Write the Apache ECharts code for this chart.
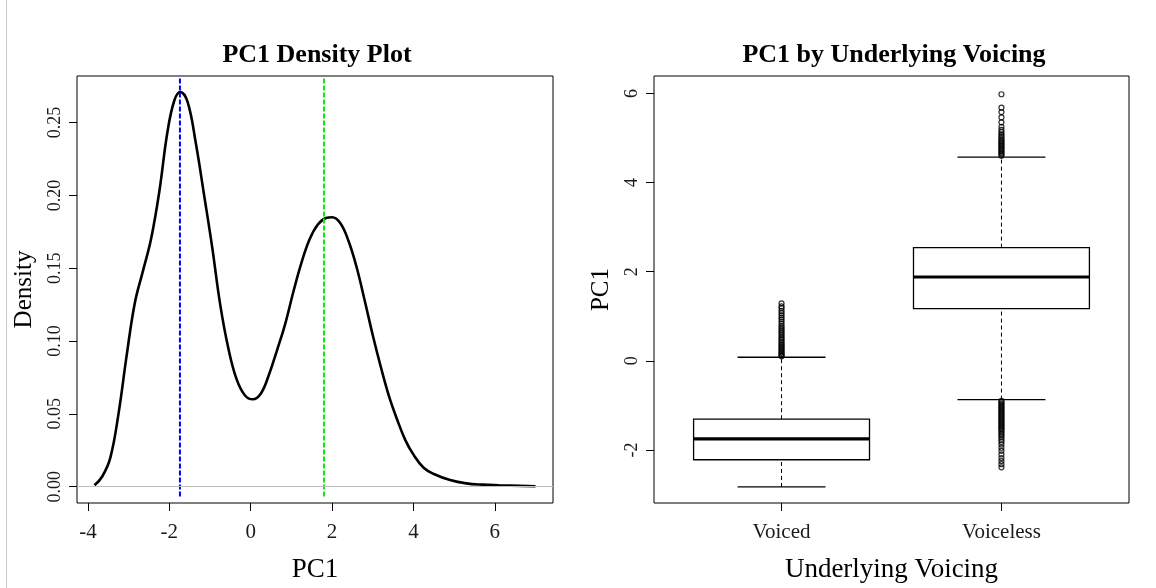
<!DOCTYPE html>
<html>
<head>
<meta charset="utf-8">
<title>PC1 plots</title>
<script src="https://cdn.jsdelivr.net/npm/echarts@6/dist/echarts.min.js"></script>
<style>
  html, body { margin: 0; padding: 0; background: #fff; }
  #chart { width: 1156px; height: 588px; }
</style>
</head>
<body>
<div id="chart"></div>
<script>
// density curve of PC1: [PC1, density]
const densityPoints = [
  [-3.84, 0.001], [-3.65, 0.007], [-3.45, 0.020], [-3.25, 0.050], [-3.05, 0.090],
  [-2.85, 0.126], [-2.65, 0.148], [-2.45, 0.170], [-2.25, 0.202], [-2.05, 0.243],
  [-1.88, 0.265], [-1.73, 0.271], [-1.55, 0.264], [-1.35, 0.236], [-1.15, 0.201],
  [-0.95, 0.165], [-0.75, 0.125], [-0.55, 0.095], [-0.35, 0.074], [-0.15, 0.063],
  [0.05, 0.060], [0.25, 0.064], [0.45, 0.077], [0.65, 0.094], [0.85, 0.112],
  [1.05, 0.134], [1.25, 0.154], [1.45, 0.170], [1.65, 0.180], [1.85, 0.1845],
  [2.0, 0.185], [2.2, 0.181], [2.4, 0.169], [2.6, 0.151], [2.8, 0.128],
  [3.0, 0.104], [3.2, 0.082], [3.4, 0.062], [3.6, 0.046], [3.8, 0.032],
  [4.0, 0.022], [4.25, 0.013], [4.5, 0.0087], [4.9, 0.0046], [5.3, 0.0023],
  [5.7, 0.0014], [6.1, 0.001], [7.0, 0.0003]
];
const voicedMean = -1.74;
const voicelessMean = 1.80;
const densityTicks = [0, 0.05, 0.10, 0.15, 0.20, 0.25];
const pcTicks = [-4, -2, 0, 2, 4, 6];

// boxplot stats: [position, lower whisker, Q1, median, Q3, upper whisker]
const categories = ["Voiced", "Voiceless"];
const boxStats = [
  [1, -2.83, -2.22, -1.75, -1.31, 0.08],
  [2, -0.87, 1.17, 1.88, 2.54, 4.57]
];
const voicedOutliers = [
  0.1, 0.12, 0.15, 0.18, 0.21, 0.24, 0.27, 0.3, 0.33, 0.36, 0.4, 0.43, 0.47, 0.5,
  0.54, 0.58, 0.62, 0.66, 0.7, 0.74, 0.78, 0.83, 0.88, 0.93, 0.97, 1.02, 1.07,
  1.12, 1.18, 1.22, 1.29
];
const voicelessOutliers = [
  4.6, 4.63, 4.66, 4.69, 4.72, 4.75, 4.78, 4.81, 4.84, 4.87, 4.9, 4.93, 4.96, 5.0,
  5.04, 5.08, 5.13, 5.18, 5.25, 5.35, 5.46, 5.58, 5.68, 5.98,
  -0.9, -0.93, -0.96, -0.99, -1.02, -1.05, -1.08, -1.11, -1.14, -1.17, -1.2, -1.23,
  -1.26, -1.29, -1.32, -1.35, -1.38, -1.41, -1.44, -1.47, -1.5, -1.53, -1.56, -1.6,
  -1.64, -1.68, -1.72, -1.77, -1.82, -1.88, -1.95, -2.02, -2.1, -2.18, -2.25,
  -2.32, -2.39
];
const boxTicks = [-2, 0, 2, 4, 6];

const serif = "Liberation Serif";
const outlierData = voicedOutliers.map(v => [1, v]).concat(voicelessOutliers.map(v => [2, v]));

const xTickLabel = { fontFamily: serif, fontSize: 21, color: "#1a1a1a" };
const yTickLabel = { fontFamily: serif, fontSize: 18, color: "#1a1a1a" };
const xName = { fontFamily: serif, fontSize: 27, color: "#000" };
const yName = { fontFamily: serif, fontSize: 25, color: "#000" };
const tick = list => ({ show: true, length: 8, customValues: list, lineStyle: { color: "#000" } });

var myChart = echarts.init(document.getElementById("chart"), null, { renderer: "canvas" });
myChart.setOption({
  animation: false,
  title: [
    {
      text: "PC1 Density Plot",
      left: 312, top: 37, textAlign: "center",
      textStyle: { fontFamily: serif, fontSize: 26, fontWeight: "bold", color: "#000" }
    },
    {
      text: "PC1 by Underlying Voicing",
      left: 889, top: 37, textAlign: "center",
      textStyle: { fontFamily: serif, fontSize: 26, fontWeight: "bold", color: "#000" }
    }
  ],
  graphic: [
    { type: "line", shape: { x1: 6.5, y1: 0, x2: 6.5, y2: 588 }, style: { stroke: "#c8c8c8", lineWidth: 1 } }
  ],
  grid: [
    { left: 77, top: 76, width: 476, height: 427, show: true, borderColor: "#000", borderWidth: 1 },
    { left: 654, top: 76, width: 475, height: 427, show: true, borderColor: "#000", borderWidth: 1 }
  ],
  xAxis: [
    {
      gridIndex: 0, type: "value", min: -4.27, max: 7.43, position: "bottom",
      name: "PC1", nameLocation: "middle", nameGap: 53, nameTextStyle: xName,
      axisLine: { show: false, onZero: false },
      axisTick: tick(pcTicks),
      axisLabel: Object.assign({ customValues: pcTicks, margin: 19 }, xTickLabel),
      splitLine: { show: false }
    },
    {
      gridIndex: 1, type: "value", min: 0.42, max: 2.58, position: "bottom",
      name: "Underlying Voicing", nameLocation: "middle", nameGap: 53, nameTextStyle: xName,
      axisLine: { show: false, onZero: false },
      axisTick: tick([1, 2]),
      axisLabel: Object.assign({
        customValues: [1, 2], margin: 19,
        formatter: v => categories[Math.round(v) - 1]
      }, xTickLabel),
      splitLine: { show: false }
    }
  ],
  yAxis: [
    {
      gridIndex: 0, type: "value", min: -0.0112, max: 0.282, position: "left",
      name: "Density", nameLocation: "middle", nameGap: 40, nameTextStyle: yName,
      axisLine: { show: false, onZero: false },
      axisTick: tick(densityTicks),
      axisLabel: Object.assign({
        customValues: densityTicks, margin: 13, rotate: 90,
        formatter: v => v.toFixed(2)
      }, yTickLabel),
      splitLine: { show: false }
    },
    {
      gridIndex: 1, type: "value", min: -3.19, max: 6.39, position: "left",
      name: "PC1", nameLocation: "middle", nameGap: 40, nameTextStyle: yName,
      axisLine: { show: false, onZero: false },
      axisTick: tick(boxTicks),
      axisLabel: Object.assign({ customValues: boxTicks, margin: 13, rotate: 90 }, yTickLabel),
      splitLine: { show: false }
    }
  ],
  series: [
    {
      name: "density", type: "line", xAxisIndex: 0, yAxisIndex: 0,
      data: densityPoints, showSymbol: false, symbol: "none",
      smooth: 0.4,
      lineStyle: { color: "#000", width: 2.6 },
      markLine: {
        silent: true, symbol: "none", label: { show: false },
        lineStyle: { color: "#bebebe", width: 1, type: "solid" },
        data: [{ yAxis: 0 }]
      },
      z: 3
    },
    {
      name: "voiced mean", type: "line", xAxisIndex: 0, yAxisIndex: 0,
      data: [[voicedMean, -0.0068], [voicedMean, 0.2805]], symbol: "none",
      lineStyle: { color: "#0000ff", width: 2, type: [5, 2] }, z: 4
    },
    {
      name: "voiceless mean", type: "line", xAxisIndex: 0, yAxisIndex: 0,
      data: [[voicelessMean, -0.0068], [voicelessMean, 0.2805]], symbol: "none",
      lineStyle: { color: "#00ee00", width: 2, type: [5, 2] }, z: 4
    },
    {
      name: "boxes", type: "custom", xAxisIndex: 1, yAxisIndex: 1,
      data: boxStats,
      encode: { x: 0, y: [1, 2, 3, 4, 5] },
      renderItem(params, api) {
        const x = api.value(0);
        const lo = api.coord([x, api.value(1)]);
        const q1 = api.coord([x, api.value(2)]);
        const med = api.coord([x, api.value(3)]);
        const q3 = api.coord([x, api.value(4)]);
        const hi = api.coord([x, api.value(5)]);
        const w = api.size([0.8, 0])[0];
        const cx = lo[0];
        const dash = { stroke: "#000", lineWidth: 1, lineDash: [4, 3] };
        const solid = { stroke: "#000", lineWidth: 1.3 };
        return {
          type: "group",
          children: [
            { type: "line", shape: { x1: cx, y1: lo[1], x2: cx, y2: q1[1] }, style: dash },
            { type: "line", shape: { x1: cx, y1: q3[1], x2: cx, y2: hi[1] }, style: dash },
            { type: "line", shape: { x1: cx - w / 4, y1: lo[1], x2: cx + w / 4, y2: lo[1] }, style: solid },
            { type: "line", shape: { x1: cx - w / 4, y1: hi[1], x2: cx + w / 4, y2: hi[1] }, style: solid },
            { type: "rect", shape: { x: cx - w / 2, y: q3[1], width: w, height: q1[1] - q3[1] },
              style: { fill: "#fff", stroke: "#000", lineWidth: 1.3 } },
            { type: "line", shape: { x1: cx - w / 2, y1: med[1], x2: cx + w / 2, y2: med[1] },
              style: { stroke: "#000", lineWidth: 3.2 } }
          ]
        };
      },
      z: 2
    },
    {
      name: "outliers", type: "scatter", xAxisIndex: 1, yAxisIndex: 1,
      data: outlierData, symbol: "circle", symbolSize: 5,
      itemStyle: { color: "rgba(0,0,0,0)", borderColor: "#000", borderWidth: 1.2 },
      z: 3
    }
  ]
});
</script>
</body>
</html>
